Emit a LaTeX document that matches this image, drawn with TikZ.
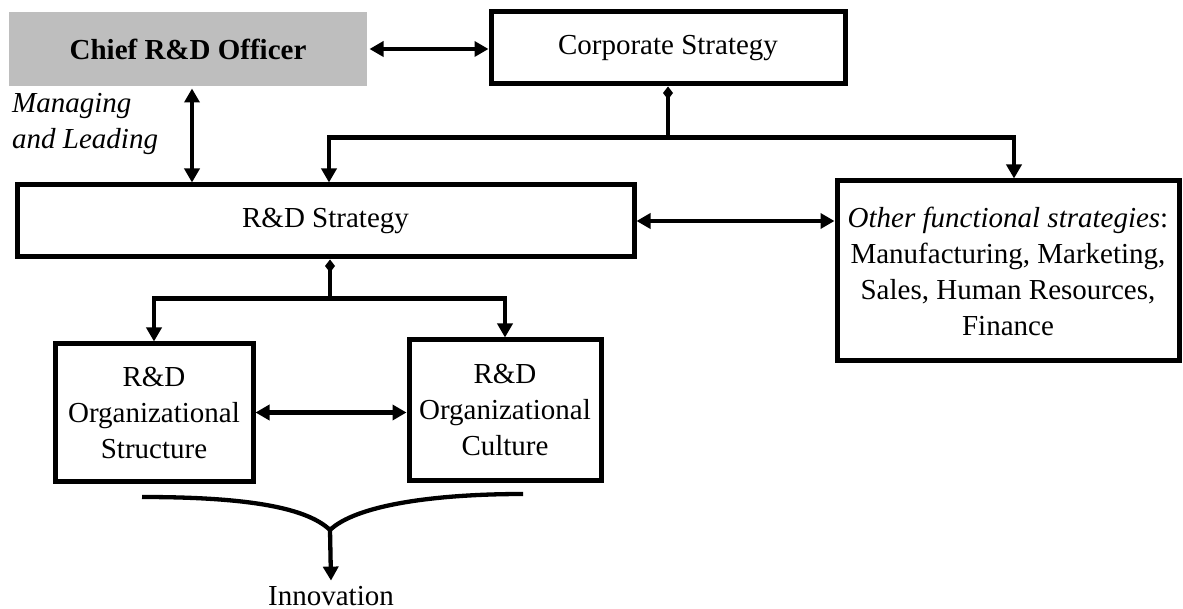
\documentclass[tikz,border=0pt]{standalone}
\usepackage{fontspec}
\setmainfont{Liberation Serif}
\usetikzlibrary{arrows.meta,calc}
\definecolor{chiefgray}{RGB}{190,190,190}
\tikzset{
  txt/.style={font=\fontsize{29}{36}\selectfont},
  box/.style={txt, draw, line width=5pt, inner sep=0pt, align=center},
  conn/.style={line width=4.3pt},
  tip/.style={},
  arr/.style={conn, -{Triangle[length=14pt,width=15pt]}},
  darr/.style={conn, {Triangle[length=14pt,width=15pt]}-{Triangle[length=14pt,width=15pt]}},
  dstart/.style={conn, {Diamond[length=13pt,width=10pt]}-},
  lbl/.style={txt, inner sep=0pt}
}
\begin{document}
\begin{tikzpicture}[x=1pt,y=-1pt]
  \useasboundingbox (0,0) rectangle (1183,609);

  % boxes
  \node[box, draw=none, fill=chiefgray, minimum width=358pt, minimum height=74pt,
        font=\fontsize{29}{36}\selectfont\bfseries] (chief) at (188,49) {Chief R\&D Officer};
  \node[box, minimum width=354pt, minimum height=72pt] (corp) at (668,48) {Corporate Strategy};
  \node[box, minimum width=617pt, minimum height=72pt] (rd) at (325.5,221) {R\&D Strategy};
  \node[box, minimum width=342pt, minimum height=180pt] (other) at (1008,271)
    {\textit{Other functional strategies}:\\Manufacturing, Marketing,\\Sales, Human Resources,\\Finance};
  \node[box, minimum width=198pt, minimum height=137pt] (struct) at (154,412.5)
    {R\&D\\Organizational\\Structure};
  \node[box, minimum width=192pt, minimum height=140pt] (cult) at (505,410)
    {R\&D\\Organizational\\Culture};

  % labels
  \node[lbl, anchor=west, align=left, font=\fontsize{29}{36}\selectfont\itshape] (ml) at (12,124)
    {Managing\\and Leading};
  \node[lbl, anchor=base] (inno) at (331,605) {Innovation};

  % chief officer links
  \coordinate (mlx) at (192,0);
  \draw[darr] (chief.east) -- (chief.east -| corp.west);
  \draw[darr] (chief.south -| mlx) -- (rd.north -| mlx);

  % corporate strategy tree
  \path (corp.south) ++(0,51) coordinate (cj);
  \draw[dstart] (corp.south) -- (cj);
  \draw[arr] (cj) -| ([xshift=3.5pt]rd.north);
  \draw[arr] (cj) -| ([xshift=6pt]other.north);

  % R&D strategy links
  \draw[darr] (rd.east) -- (rd.east -| other.west);
  \path ([xshift=4.5pt]rd.south) ++(0,39) coordinate (rj);
  \draw[dstart] ([xshift=4.5pt]rd.south) -- (rj);
  \draw[arr] (rj) -| (struct.north);
  \draw[arr] (rj) -| (cult.north);
  \draw[darr] (struct.east) -- (struct.east -| cult.west);

  % converging brace to innovation
  \coordinate (brL) at (142,497);
  \coordinate (brR) at (523,494);
  \coordinate (brM) at (330,530);
  \draw[conn] (brL) .. controls (240,497) and (305,506) .. (brM)
              .. controls (355,506) and (430,494) .. (brR);
  \draw[arr] (brM) -- ([yshift=5pt]inno.north);
\end{tikzpicture}
\end{document}
